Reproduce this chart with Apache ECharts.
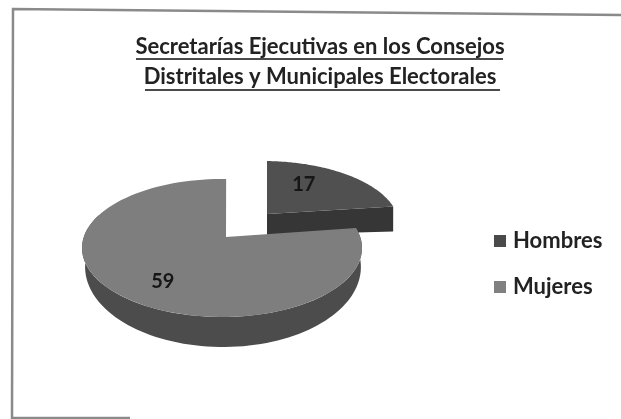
<!DOCTYPE html>
<html><head><meta charset="utf-8">
<style>html,body{margin:0;padding:0;background:#fff}#c{width:621px;height:419px;filter:blur(0.6px)}</style>
<script src="https://cdn.jsdelivr.net/npm/echarts@6/dist/echarts.min.js"></script>
</head><body><div id="c"></div>
<script>
const categories = ['Hombres', 'Mujeres'];
const values = [17, 59];
const titleLines = ['Secretarías Ejecutivas en los Consejos', 'Distritales y Municipales Electorales'];

const FONT = 'Lato';
const total = values.reduce((a, b) => a + b, 0);
const geom = [
  { cx: 263, cy: 225, rx: 136, ry: 64, ax: 267, ay: 214, top: '#505050', wall: '#363636', depth: 21, lab: [0, -14], f: 0.51 },
  { cx: 222, cy: 248, rx: 140, ry: 69, ax: 226, ay: 237, top: '#7e7e7e', wall: '#4c4c4c', drop: 19, wallRy: 80, lab: [1, 7], f: 0.58 }
];
// perspective foreshortening of the pie's angle on the tilted plane
const warp = a => a + 1.7 - 9.2 * Math.sin(a * Math.PI / 180);
function pt(g, a, k) {
  const t = warp(a) * Math.PI / 180;
  return [g.cx + g.rx * k * Math.sin(t), g.cy - g.ry * k * Math.cos(t)];
}
function arc(g, a0, a1) {
  const out = [];
  for (let i = 0; i <= 96; i++) out.push(pt(g, a0 + (a1 - a0) * i / 96, 1));
  return out;
}
function wallArc(g, a0, a1) {
  const out = [];
  for (let i = 0; i <= 96; i++) {
    const t = warp(a0 + (a1 - a0) * i / 96) * Math.PI / 180;
    out.push([g.cx + 1 + g.rx * 0.985 * Math.sin(t), g.cy + g.drop - g.wallRy * Math.cos(t)]);
  }
  return out;
}
function sliceItem(idx) {
  return function () {
    const before = values.slice(0, idx).reduce((a, b) => a + b, 0);
    const a0 = before / total * 360, a1 = (before + values[idx]) / total * 360;
    const g = geom[idx];
    const children = [];
    if (idx === 0) {
      const end = pt(g, a1, 1);
      children.push({ type: 'polygon', shape: { points: [[g.ax, g.ay], end, [end[0], end[1] + g.depth + 4], [g.ax, g.ay + g.depth]] }, style: { fill: g.wall } });
    } else {
      const visibleEnd = a1 * 0.8;
      children.push({ type: 'polygon', shape: { points: arc(g, a0, visibleEnd).concat(wallArc(g, a0, visibleEnd).reverse()) }, style: { fill: g.wall } });
    }
    children.push({ type: 'polygon', shape: { points: [[g.ax, g.ay]].concat(arc(g, a0, a1)) }, style: { fill: g.top } });
    const mid = pt(g, (a0 + a1) / 2, g.f);
    children.push({ type: 'text', style: { text: String(values[idx]), x: mid[0] + g.lab[0], y: mid[1] + g.lab[1], fill: '#161616', font: 'bold 20px ' + FONT, align: 'center', verticalAlign: 'middle' } });
    return { type: 'group', children };
  };
}
const rule = (x, y, w) => ({ type: 'rect', shape: { x, y, width: w, height: 2 }, style: { fill: '#4a4a4a' } });
const chart = echarts.init(document.getElementById('c'), null, { renderer: 'canvas' });
chart.setOption({
  animation: false,
  backgroundColor: '#fff',
  title: {
    text: titleLines.join('\n'), left: 320, top: 32, padding: 0,
    textAlign: 'center',
    textStyle: { fontFamily: FONT, fontWeight: 'bold', fontSize: 22, lineHeight: 30, color: '#222' }
  },
  legend: {
    data: categories, orient: 'vertical', left: 489, top: 225, itemWidth: 12, itemHeight: 12, itemGap: 24, icon: 'rect',
    textStyle: { fontFamily: FONT, fontWeight: 'bold', fontSize: 22, color: '#222', padding: [0, 0, 0, 2] }
  },
  graphic: [
    { type: 'polyline', shape: { points: [[621, 15], [13, 9], [12, 418], [130, 418]] }, style: { stroke: '#8a8a8a', lineWidth: 2.5, fill: null } },
    rule(136, 58, 367), rule(145, 89, 355)
  ],
  series: categories.map((name, i) => ({
    name, type: 'custom', coordinateSystem: 'none', data: [values[i]],
    itemStyle: { color: i === 0 ? '#4a4a4a' : '#808080' },
    renderItem: sliceItem(i), silent: true, z: 2 + i
  }))
});
</script></body></html>
